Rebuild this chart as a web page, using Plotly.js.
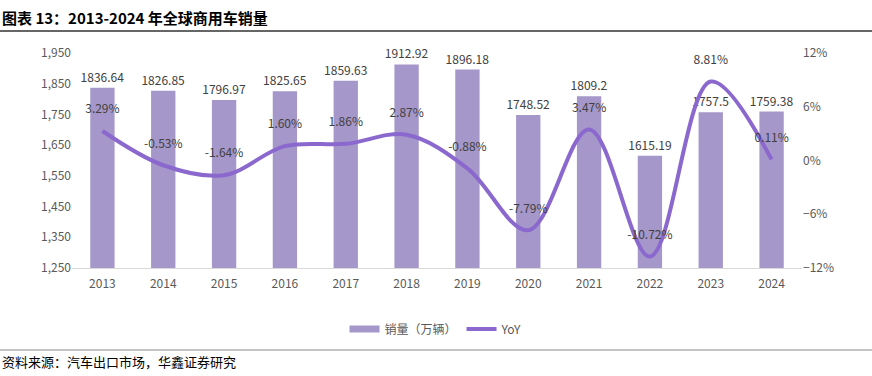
<!DOCTYPE html>
<html><head><meta charset="utf-8">
<script src="https://cdn.plot.ly/plotly-3.0.1.min.js"></script>
<style>body{margin:0;background:#fff}#c{width:872px;height:376px}</style>
</head><body><div id="c"></div>
<script>
const years = ['2013','2014','2015','2016','2017','2018','2019','2020','2021','2022','2023','2024'];
const sales = [1836.64,1826.85,1796.97,1825.65,1859.63,1912.92,1896.18,1748.52,1809.2,1615.19,1757.5,1759.38];
const yoy = [3.29,-0.53,-1.64,1.60,1.86,2.87,-0.88,-7.79,3.47,-10.72,8.81,0.11];
const salesLabels = ['1836.64','1826.85','1796.97','1825.65','1859.63','1912.92','1896.18','1748.52','1809.2','1615.19','1757.5','1759.38'];
const yoyLabels = ['3.29%','-0.53%','-1.64%','1.60%','1.86%','2.87%','-0.88%','-7.79%','3.47%','-10.72%','8.81%','0.11%'];
const leftTicks = [1250,1350,1450,1550,1650,1750,1850,1950];
const rightTicks = [-12,-6,0,6,12];
const rightTickText = ['\u221212%','\u22126%','0%','6%','12%'];

const F = '"Noto Sans CJK SC", "Noto Sans", sans-serif';
const BAR = '#A597C9', LINE = '#8B68CE';
const data = [
 {type:'bar', x:years, y:sales, name:'销量（万辆）', marker:{color:BAR}, showlegend:false,
  text:salesLabels, textposition:'outside', constraintext:'none', cliponaxis:false,
  textfont:{family:F,size:12,color:'#404040'}},
 {type:'scatter', mode:'lines', x:[null], y:[null], name:'销量（万辆）', line:{color:BAR,width:7}, hoverinfo:'skip'},
 {type:'scatter', mode:'lines+markers+text', x:years, y:yoy, name:'YoY', yaxis:'y2', showlegend:false,
  line:{color:LINE, width:4, shape:'spline', smoothing:1},
  marker:{size:22, color:'rgba(0,0,0,0)'},
  text:yoyLabels, textposition:'top center', cliponaxis:false,
  textfont:{family:F,size:12,color:'#404040'}},
 {type:'scatter', mode:'lines', x:[null], y:[null], name:'YoY', yaxis:'y2', line:{color:LINE,width:4}, hoverinfo:'skip'}
];
const layout = {
 width:872, height:376, margin:{l:72,r:70,t:53,b:108},
 paper_bgcolor:'#fff', plot_bgcolor:'#fff',
 font:{family:F,size:12,color:'#595959'},
 bargap:0.6, showlegend:true,
 xaxis:{type:'category', range:[-0.5,11.5], autorange:false, showgrid:false, showline:true, linecolor:'#d9d9d9', ticks:'outside', ticklen:5, tickcolor:'rgba(0,0,0,0)', tickfont:{size:12,color:'#595959'}},
 yaxis:{range:[1250,1950], tickmode:'array', tickvals:leftTicks, tickformat:',', showgrid:false, zeroline:false, showline:false, ticks:'', tickfont:{size:12,color:'#595959'}},
 yaxis2:{overlaying:'y', side:'right', range:[-12,12], tickmode:'array', tickvals:rightTicks, ticktext:rightTickText, showgrid:false, zeroline:false, showline:false, ticks:'', tickfont:{size:12,color:'#595959'}},
 legend:{orientation:'h', xref:'container', yref:'container', x:0.5, xanchor:'center', y:0.125, yanchor:'middle', font:{size:12,color:'#595959'}},
 annotations:[
  {xref:'paper', yref:'paper', x:0, y:0, xanchor:'left', yanchor:'middle', showarrow:false, text:'<b>图表 13：2013-2024 年全球商用车销量</b>', font:{family:F,size:15,color:'#000'}},
  {xref:'paper', yref:'paper', x:0, y:0, xanchor:'left', yanchor:'middle', showarrow:false, text:'资料来源：汽车出口市场，华鑫证券研究', font:{family:F,size:13,color:'#000'}}
 ],
 shapes:[
  {type:'line', xref:'paper', yref:'paper', x0:0, x1:1, y0:0, y1:0, line:{color:'#333',width:1.5}},
  {type:'line', xref:'paper', yref:'paper', x0:0, x1:1, y0:0, y1:0, line:{color:'#888',width:1}}
 ]
};
const pw = 872-72-70, ph = 376-53-108;
const px = x => (x-72)/pw, py = y => (376-108-y)/ph;
layout.annotations[0].x = px(0); layout.annotations[0].y = py(17);
layout.annotations[1].x = px(0); layout.annotations[1].y = py(361);
layout.shapes[0].x0 = px(0); layout.shapes[0].x1 = px(872); layout.shapes[0].y0 = layout.shapes[0].y1 = py(31);
layout.shapes[1].x0 = px(0); layout.shapes[1].x1 = px(872); layout.shapes[1].y0 = layout.shapes[1].y1 = py(350);
Plotly.newPlot('c', data, layout, {displayModeBar:false});
</script></body></html>
